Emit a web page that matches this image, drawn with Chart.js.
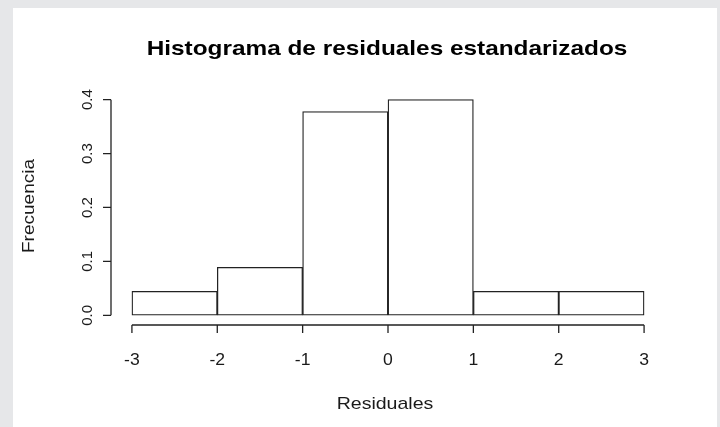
<!DOCTYPE html>
<html>
<head>
<meta charset="utf-8">
<script src="https://cdn.jsdelivr.net/npm/chart.js@4.4.1/dist/chart.umd.min.js"></script>
<style>
    html, body { margin: 0; padding: 0; background: #e6e7e9; }
    #wrap { position: absolute; left: 0; top: 0; width: 720px; height: 427px; }
    canvas { display: block; }
</style>
</head>
<body>
<div id="wrap"><canvas id="histo" width="720" height="427"></canvas></div>
<script>
// Histograma de residuales estandarizados (densidad por clase)
const binCenters = [-2.5, -1.5, -0.5, 0.5, 1.5, 2.5];
const densities = [0.0444, 0.0889, 0.3778, 0.4, 0.0444, 0.0444];
const xTicks = [-3, -2, -1, 0, 1, 2, 3];
const xTickLabels = ['-3', '-2', '-1', '0', '1', '2', '3'];
const yTicks = [0, 0.1, 0.2, 0.3, 0.4];
const yTickLabels = ['0.0', '0.1', '0.2', '0.3', '0.4'];

const titleText = 'Histograma de residuales estandarizados';
const xLabel = 'Residuales';
const yLabel = 'Frecuencia';

const FONT = '"Liberation Sans", Arial, sans-serif';

// texto estirado a lo largo (la fuente del original es más ancha)
function stretchText(c, txt, x, y, rot, sx) {
    c.save();
    c.translate(x, y);
    if (rot) c.rotate(rot);
    c.scale(sx, 1);
    c.fillText(txt, 0, 0);
    c.restore();
}

// fondo gris con panel blanco + ejes estilo R
const rStyle = {
    id: 'rStyle',
    beforeDraw(chart) {
        const c = chart.ctx;
        c.save();
        c.fillStyle = '#e6e7e9';
        c.fillRect(0, 0, chart.width, chart.height);
        c.fillStyle = '#ffffff';
        c.fillRect(13, 8, 704, 419);
        c.restore();
    },
    afterDraw(chart) {
        const c = chart.ctx;
        const xs = chart.scales.x, ys = chart.scales.y;
        const area = chart.chartArea;
        c.save();
        c.strokeStyle = '#222';
        c.fillStyle = '#1a1a1a';
        c.lineWidth = 1.3;

        // eje x
        const yAxis = area.bottom;
        c.beginPath();
        c.moveTo(xs.getPixelForValue(xTicks[0]), yAxis);
        c.lineTo(xs.getPixelForValue(xTicks[xTicks.length - 1]), yAxis);
        xTicks.forEach(v => {
            const px = xs.getPixelForValue(v);
            c.moveTo(px, yAxis);
            c.lineTo(px, yAxis + 8);
        });
        c.stroke();
        c.font = '16px ' + FONT;
        c.textAlign = 'center';
        c.textBaseline = 'middle';
        xTicks.forEach((v, i) => {
            stretchText(c, xTickLabels[i], xs.getPixelForValue(v), 361, 0, 1.1);
        });

        // eje y
        const xAxis = area.left;
        c.beginPath();
        c.moveTo(xAxis, ys.getPixelForValue(yTicks[0]));
        c.lineTo(xAxis, ys.getPixelForValue(yTicks[yTicks.length - 1]));
        yTicks.forEach(v => {
            const py = ys.getPixelForValue(v);
            c.moveTo(xAxis, py);
            c.lineTo(xAxis - 8, py);
        });
        c.stroke();
        c.font = '15px ' + FONT;
        yTicks.forEach((v, i) => {
            stretchText(c, yTickLabels[i], 88, ys.getPixelForValue(v), -Math.PI / 2, 1);
        });

        // títulos
        c.font = '17px ' + FONT;
        stretchText(c, xLabel, 385, 404, 0, 1.15);
        stretchText(c, yLabel, 29, 206, -Math.PI / 2, 1.12);

        c.fillStyle = '#000';
        c.font = 'bold 21px ' + FONT;
        stretchText(c, titleText, 387, 49, 0, 1.16);
        c.restore();
    }
};

const ctx = document.getElementById('histo').getContext('2d');
new Chart(ctx, {
    type: 'bar',
    data: {
        datasets: [{
            data: binCenters.map((x, i) => ({ x: x, y: densities[i] })),
            backgroundColor: '#ffffff',
            borderColor: '#222',
            borderWidth: 1.3,
            borderSkipped: false,
            barPercentage: 1,
            categoryPercentage: 1
        }]
    },
    options: {
        responsive: false,
        animation: false,
        events: [],
        layout: { padding: { left: 111, right: 55, top: 91, bottom: 102 } },
        plugins: {
            legend: { display: false },
            tooltip: { enabled: false },
            title: { display: false }
        },
        scales: {
            x: { type: 'linear', display: false, min: -3.245, max: 3.245, offset: false },
            y: { display: false, min: -0.018, max: 0.416 }
        }
    },
    plugins: [rStyle]
});
</script>
</body>
</html>
